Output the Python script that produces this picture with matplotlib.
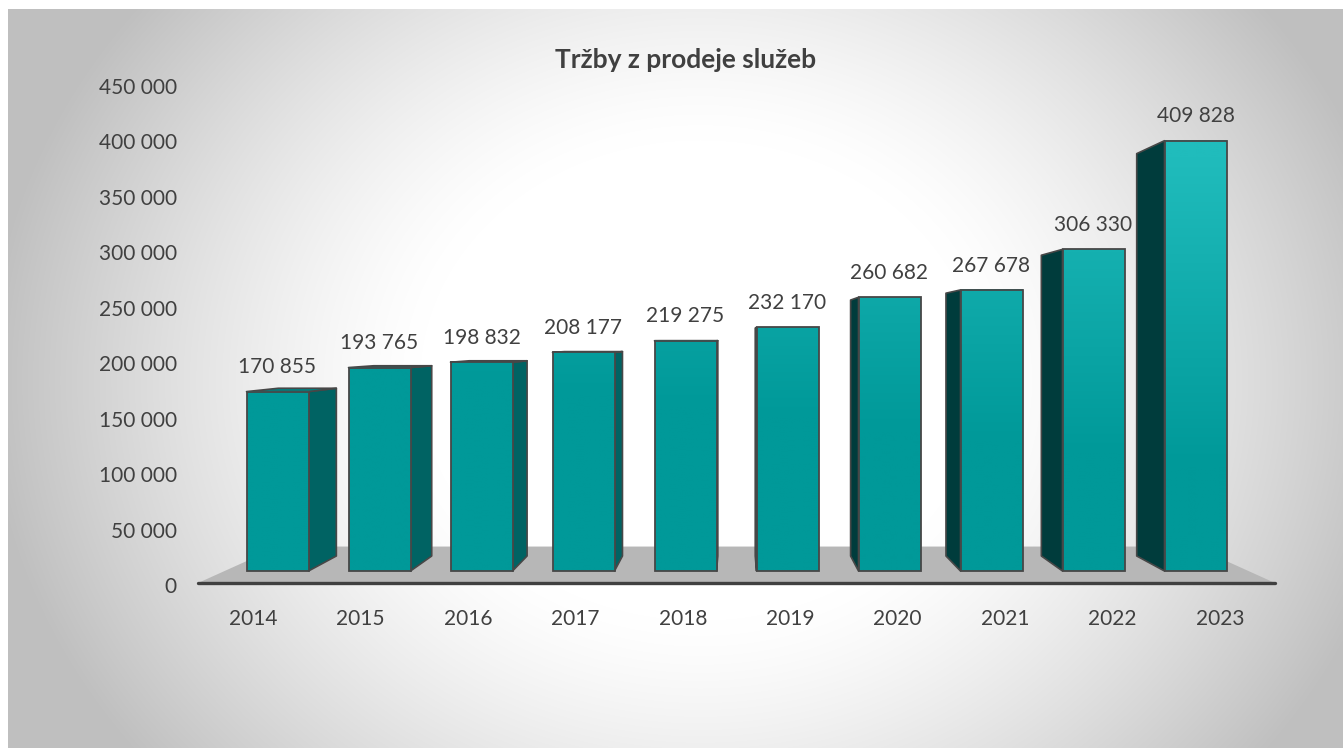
import numpy as np
import matplotlib
matplotlib.use("Agg")
import matplotlib.pyplot as plt
from matplotlib.patches import Polygon, Rectangle
from matplotlib.ticker import FuncFormatter

# ---------------- data ----------------
title = "Tržby z prodeje služeb"
years = ["2014", "2015", "2016", "2017", "2018", "2019", "2020", "2021", "2022", "2023"]
values = [170855, 193765, 198832, 208177, 219275, 232170, 260682, 267678, 306330, 409828]
yticks = [0, 50000, 100000, 150000, 200000, 250000, 300000, 350000, 400000, 450000]

# ---------------- layout ----------------
W, H = 1343, 748
DPI = 100
TXT = "#404040"
EDGE = "#474747"
FONT = "Lato"
FS = 15

fig = plt.figure(figsize=(W / DPI, H / DPI), dpi=DPI)

# background: white margin + radial gradient chart area
bg = fig.add_axes([0, 0, 1, 1], zorder=-10)
bg.set_axis_off()
yy, xx = np.mgrid[0:H, 0:W]
r = np.sqrt(((xx - 700) / 700.0) ** 2 + ((yy - 380) / 600.0) ** 2)
t = np.clip((r - 0.4) / 0.62, 0, 1) ** 1.3
g = 1.0 - 0.25 * t
g[:9, :] = 1.0
g[:, :8] = 1.0
bg.imshow(np.dstack([g, g, g]), extent=[0, W, H, 0], aspect="auto", interpolation="bilinear")
bg.set_xlim(0, W)
bg.set_ylim(H, 0)

# main axes: x = category index, y = value (front plane of bars)
px_left, px_right, px_bottom, px_top = 198, 1275, 583, 70
x0_px, dx_px = 277.5, 102.0          # center of first bar, spacing
zero_px, scale_px = 571.0, 1.05 / 1000.0  # pixel of value 0 and px per unit

ax = fig.add_axes([px_left / W, (H - px_bottom) / H,
                   (px_right - px_left) / W, (px_bottom - px_top) / H])
ax.set_facecolor("none")
xlim = ((px_left - x0_px) / dx_px, (px_right - x0_px) / dx_px)
ylim = ((zero_px - px_bottom) / scale_px, (zero_px - px_top) / scale_px)

# perspective parameters
vx = (737 - x0_px) / dx_px
vy = (zero_px - 340) / scale_px
bar_depth = 0.065
floor_depth = 0.15
bw = 62 / dx_px

def back(x, y, d):
    return x + d * (vx - x), y + d * (vy - y)

# floor
fl = [(xlim[0], ylim[0]), (xlim[1], ylim[0]),
      back(xlim[1], ylim[0], floor_depth), back(xlim[0], ylim[0], floor_depth)]
ax.add_patch(Polygon(fl, closed=True, facecolor="#b7b7b7", edgecolor="none", zorder=1))

base = np.array([0x00, 0x99, 0x99]) / 255.0
light = np.array([0x20, 0xbc, 0xbc]) / 255.0

for i, v in enumerate(values):
    xl, xr = i - bw / 2, i + bw / 2
    # side face
    if xr < vx:
        side = [(xr, 0), back(xr, 0, bar_depth), back(xr, v, bar_depth), (xr, v)]
        ax.add_patch(Polygon(side, closed=True, facecolor="#006363", edgecolor=EDGE,
                             lw=1.2, joinstyle="round", zorder=2))
    elif xl > vx:
        side = [(xl, 0), back(xl, 0, bar_depth), back(xl, v, bar_depth), (xl, v)]
        ax.add_patch(Polygon(side, closed=True, facecolor="#003c3c", edgecolor=EDGE,
                             lw=1.2, joinstyle="round", zorder=2))
    # top face (visible when below eye level)
    if v < vy:
        top = [(xl, v), (xr, v), back(xr, v, bar_depth), back(xl, v, bar_depth)]
        ax.add_patch(Polygon(top, closed=True, facecolor="#008080", edgecolor=EDGE,
                             lw=1.2, joinstyle="round", zorder=2))
    # front face with vertical gradient
    n = 64
    vs = np.linspace(v, 0, n)
    tt = np.clip(0.85 * (vs - 160000) / 250000 + 0.2 * (i - 4) / 5, 0, 1)
    img = base[None, :] + tt[:, None] * (light - base)[None, :]
    ax.imshow(img[:, None, :], extent=[xl, xr, 0, v], aspect="auto",
              interpolation="bilinear", zorder=3)
    ax.add_patch(Rectangle((xl, 0), bw, v, facecolor="none", edgecolor=EDGE,
                           lw=1.3, zorder=4))
    ax.annotate(f"{v:,}".replace(",", " "), xy=(i, v), xytext=(0, 17.5),
                textcoords="offset points", ha="center", va="center",
                fontsize=FS, color=TXT, family=FONT, zorder=5)

ax.set_xlim(*xlim)
ax.set_ylim(*ylim)

# x labels (spread by perspective around vanishing point)
ax.set_xticks([vx + 1.053 * (i - vx) for i in range(len(years))])
ax.set_xticklabels(years, family=FONT, fontsize=FS, color=TXT)
ax.tick_params(axis="x", length=0, pad=18.5)
ax.set_yticks([])
for s in ["top", "right", "left"]:
    ax.spines[s].set_visible(False)
ax.spines["bottom"].set_color("#404040")
ax.spines["bottom"].set_linewidth(2.4)
ax.spines["bottom"].set_capstyle("round")

# y axis labels (back wall scale)
lab_right_px, y0_px, y450_px = 177, 585, 86
ax2 = fig.add_axes([(lab_right_px + 8) / W, (H - y0_px) / H, 0.005, (y0_px - y450_px) / H])
ax2.set_facecolor("none")
ax2.set_ylim(0, 450000)
ax2.set_yticks(yticks)
ax2.yaxis.set_major_formatter(FuncFormatter(lambda x, p: f"{int(x):,}".replace(",", " ")))
ax2.tick_params(axis="y", length=0, pad=5.8, labelsize=FS, labelcolor=TXT)
for lbl in ax2.get_yticklabels():
    lbl.set_family(FONT)
ax2.set_xticks([])
for s in ax2.spines.values():
    s.set_visible(False)

fig.text(686 / W, 1 - 60 / H, title, ha="center", va="center", fontsize=19,
         fontweight="bold", color=TXT, family=FONT)

fig.savefig("out.png", dpi=DPI)
